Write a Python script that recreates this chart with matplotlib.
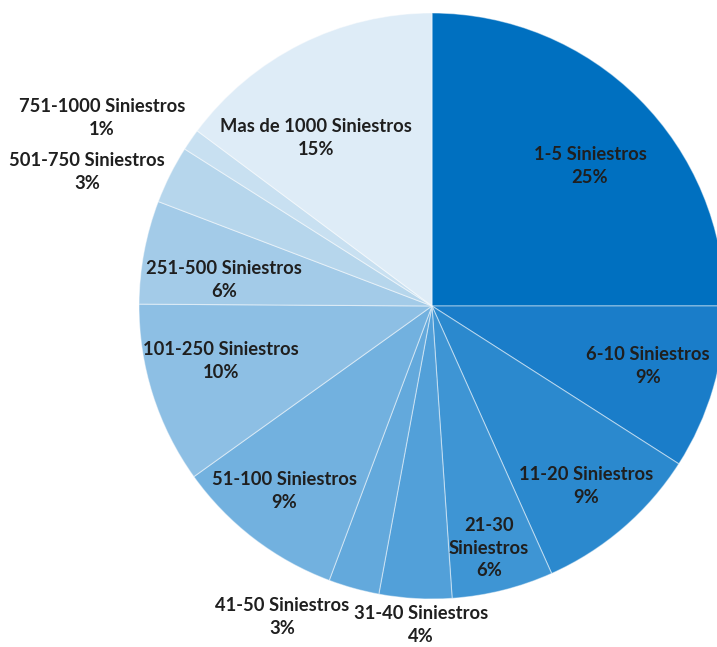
import matplotlib.pyplot as plt

# Datos (porcentaje de siniestros por tramo)
categorias = ["1-5 Siniestros", "6-10 Siniestros", "11-20 Siniestros", "21-30\nSiniestros",
              "31-40 Siniestros", "41-50 Siniestros", "51-100 Siniestros", "101-250 Siniestros",
              "251-500 Siniestros", "501-750 Siniestros", "751-1000 Siniestros",
              "Mas de 1000 Siniestros"]
porcentajes = [25.0, 9.06, 9.25, 5.6, 4.0, 2.8, 9.4, 10.0, 5.7, 3.2, 1.2, 14.8]

colores = ["#0070C0", "#1A7DC9", "#2B89CE", "#3E95D4", "#52A0D9", "#63A9DC",
           "#72B1DF", "#8DBFE4", "#A3CBE8", "#B6D6EC", "#C8E0F1", "#DEECF7"]

# posiciones de las etiquetas en pixeles (centro del bloque de texto)
pos_etiquetas = [(590, 166), (648, 366), (586, 486), (489, 548), (421, 625), (282, 617),
                 (284, 491), (221, 361), (224, 280), (87, 172), (102, 118), (316, 138)]

W, H = 717, 647
cx, cy, r = 432, 306, 293

fig = plt.figure(figsize=(W / 100, H / 100), dpi=100)
ax = fig.add_axes([0, 0, 1, 1])

ax.pie(porcentajes, colors=colores, startangle=90, counterclock=False,
       wedgeprops=dict(edgecolor=(1, 1, 1, 0.45), linewidth=0.8))

# misma escala en x e y (r pixeles por unidad)
ax.set_aspect("auto")
ax.set_xlim(-cx / r, (W - cx) / r)
ax.set_ylim(-(H - cy) / r, cy / r)
ax.axis("off")

for cat, pct, (px, py) in zip(categorias, porcentajes, pos_etiquetas):
    fig.text(px / W, 1 - py / H, f"{cat}\n{round(pct):d}%", ha="center", va="center",
             fontsize=13.2, fontweight="bold", family=["Lato", "DejaVu Sans"],
             color="#1f1f1f", linespacing=1.42)

plt.savefig("out.png", dpi=100)
plt.close(fig)
